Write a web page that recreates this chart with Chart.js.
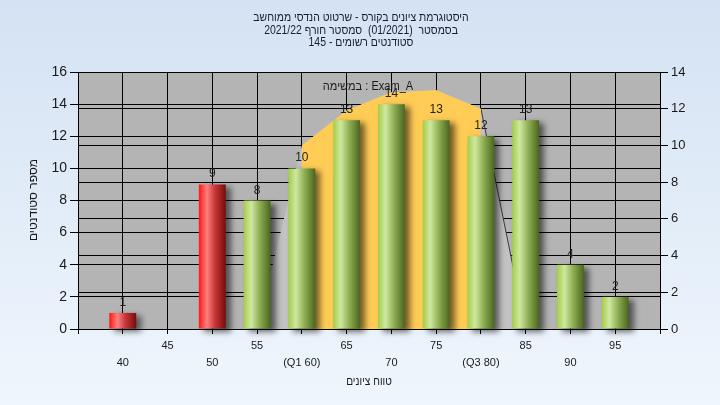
<!DOCTYPE html>
<html lang="he">
<head>
  <meta charset="UTF-8">
  <title>היסטוגרמת ציונים</title>
  <script src="https://cdn.jsdelivr.net/npm/chart.js"></script>
  <style>
    * { margin: 0; padding: 0; box-sizing: border-box; }
    body { width: 720px; height: 405px; overflow: hidden; background: #e4eef9; }
    .chart-box { position: relative; width: 720px; height: 405px; }
  </style>
</head>
<body>
  <div class="chart-box"><canvas id="gradeChart"></canvas></div>

  <script>
    // grade buckets and number of students in each
    const grades = ['40', '45', '50', '55', '60', '65', '70', '75', '80', '85', '90', '95'];
    const gradeLabels = ['40', '45', '50', '55', '(Q1 60)', '65', '70', '75', '(Q3 80)', '85', '90', '95'];
    const students = [1, 0, 9, 8, 10, 13, 14, 13, 12, 13, 4, 2];
    // distribution curve on the right axis: whole spread, and the Q1..Q3 part
    const curveAll = [null, null, null, 0, 10, 11.9, 12.9, 13, 12, 0, null, null];
    const curveIqr = [null, null, null, null, 10, 11.9, 12.9, 13, 12, null, null, null];
    const passGrade = 55;

    const titleLines = [
      'היסטוגרמת ציונים בקורס - שרטוט הנדסי ממוחשב',
      'בסמסטר  (01/2021)  סמסטר חורף 2021/22',
      'סטודנטים רשומים - 145'
    ];
    const taskLabel = 'במשימה : Exam_A';
    const yTitle = 'מספר סטודנטים';
    const xTitle = 'טווח ציונים';

    const FONT = "'Liberation Sans', Arial, sans-serif";
    const BAR_PCT = 0.6;

    // one empty slot on each side so the axis runs 35..100
    const pad = arr => [null, ...arr, null];
    const labels = ['', ...gradeLabels, ''];

    function barFill(c) {
      const xs = c.chart.scales.x;
      if (!xs || !c.chart.chartArea || c.dataIndex === undefined) return '#9c5';
      const x = xs.getPixelForValue(c.dataIndex);
      const w = (xs.getPixelForValue(1) - xs.getPixelForValue(0)) * BAR_PCT;
      if (!Number.isFinite(x) || !Number.isFinite(w)) return '#9c5';
      const g = c.chart.ctx.createLinearGradient(x - w / 2, 0, x + w / 2, 0);
      const fail = Number(grades[c.dataIndex - 1]) < passGrade;
      if (fail) {
        g.addColorStop(0, '#ff1414');
        g.addColorStop(0.3, '#ff8080');
        g.addColorStop(0.6, '#c83636');
        g.addColorStop(1, '#760c0c');
      } else {
        g.addColorStop(0, '#a4cc48');
        g.addColorStop(0.28, '#cfe8a0');
        g.addColorStop(0.6, '#8eae52');
        g.addColorStop(1, '#4a6620');
      }
      return g;
    }

    const backdrop = {
      id: 'backdrop',
      beforeDraw(chart) {
        const { ctx, width, height, chartArea: a } = chart;
        ctx.save();
        const g = ctx.createLinearGradient(0, 0, 0, height);
        g.addColorStop(0, '#d4e2f3');
        g.addColorStop(1, '#eff6fd');
        ctx.fillStyle = g;
        ctx.fillRect(0, 0, width, height);
        ctx.fillStyle = '#b4b4b4';
        ctx.fillRect(a.left, a.top, a.right - a.left, a.bottom - a.top);
        ctx.restore();
      }
    };

    const barShadow = {
      id: 'barShadow',
      beforeDatasetDraw(chart, args) {
        if (args.meta.type !== 'bar') return;
        const ctx = chart.ctx;
        ctx.save();
        ctx.shadowColor = 'rgba(0,0,0,0.55)';
        ctx.shadowBlur = 6;
        ctx.shadowOffsetX = 5;
        ctx.shadowOffsetY = 3;
      },
      afterDatasetDraw(chart, args) {
        if (args.meta.type !== 'bar') return;
        chart.ctx.restore();
      }
    };

    // text drawn a little narrower, like the condensed face of the original
    function narrowText(ctx, text, x, y, sx) {
      ctx.save();
      ctx.translate(x, y);
      ctx.scale(sx, 1);
      ctx.fillText(text, 0, 0);
      ctx.restore();
    }

    const texts = {
      id: 'texts',
      afterDatasetsDraw(chart) {
        const ctx = chart.ctx;
        ctx.save();
        ctx.fillStyle = '#222';
        ctx.font = '12px ' + FONT;
        ctx.textAlign = 'center';
        ctx.textBaseline = 'alphabetic';
        const meta = chart.getDatasetMeta(0);
        meta.data.forEach((el, i) => {
          const v = chart.data.datasets[0].data[i];
          if (v) ctx.fillText(String(v), el.x, el.y - 7);
        });
        ctx.restore();
      },
      afterDraw(chart) {
        const ctx = chart.ctx;
        ctx.save();
        ctx.fillStyle = '#1a1a30';
        ctx.textAlign = 'center';
        ctx.font = '12px ' + FONT;
        titleLines.forEach((t, i) => narrowText(ctx, t, 361, 21 + i * 12.5, 0.87));
        ctx.fillStyle = '#1a1a1a';
        narrowText(ctx, taskLabel, 368, 90, 0.92);
        narrowText(ctx, xTitle, 369, 385, 0.85);
        ctx.translate(37, 200);
        ctx.rotate(-Math.PI / 2);
        ctx.fillText(yTitle, 0, 0);
        ctx.restore();
      }
    };

    const chart = new Chart(document.getElementById('gradeChart'), {
      type: 'bar',
      data: {
        labels: labels,
        datasets: [
          {
            type: 'bar', data: pad(students), yAxisID: 'y', order: 1,
            backgroundColor: barFill, borderWidth: 0,
            barPercentage: BAR_PCT, categoryPercentage: 1, clip: false
          },
          {
            type: 'line', data: pad(curveIqr), yAxisID: 'y2', order: 2,
            fill: 'origin', backgroundColor: '#ffcc55', borderWidth: 0,
            pointRadius: 0, tension: 0
          },
          {
            type: 'line', data: pad(curveAll), yAxisID: 'y2', order: 3,
            fill: 'origin', backgroundColor: '#c2c2c2', borderWidth: 1,
            borderColor: 'transparent', pointRadius: 0, tension: 0,
            segment: { borderColor: s => s.p0DataIndex === 9 ? '#3a3a3a' : 'transparent' }
          }
        ]
      },
      options: {
        responsive: true,
        maintainAspectRatio: false,
        animation: false,
        layout: { padding: { top: 72, left: 0, right: 0, bottom: 0 } },
        plugins: { legend: { display: false }, tooltip: { enabled: false }, title: { display: false } },
        scales: {
          x: {
            offset: false,
            grid: { color: '#000', offset: false, tickLength: 5, tickColor: '#000' },
            border: { color: '#000', z: 1 },
            ticks: {
              autoSkip: false, maxRotation: 0, padding: 3, color: '#1a1a1a',
              font: { family: FONT, size: 11, lineHeight: 1.55 },
              callback: function (value, index) {
                const l = this.getLabelForValue(value);
                return index % 2 === 1 ? ['', l] : [l];
              }
            },
            afterFit: s => { s.height = 76; }
          },
          y: {
            position: 'left', min: 0, max: 16,
            grid: { color: '#000', tickLength: 8, tickColor: '#000' },
            border: { color: '#000' },
            ticks: { stepSize: 2, padding: 3, color: '#1a1a1a', font: { family: FONT, size: 14 } },
            afterFit: s => { s.width = 78; }
          },
          y2: {
            position: 'right', min: 0, max: 14,
            grid: { color: '#000', tickLength: 8, tickColor: '#000' },
            border: { color: '#000' },
            ticks: { stepSize: 2, padding: 3, color: '#1a1a1a', font: { family: FONT, size: 13 } },
            afterFit: s => { s.width = 60; }
          }
        }
      },
      plugins: [backdrop, barShadow, texts]
    });
    // gradients depend on the laid-out x scale, so resolve them once more
    chart.update();
  </script>
</body>
</html>
